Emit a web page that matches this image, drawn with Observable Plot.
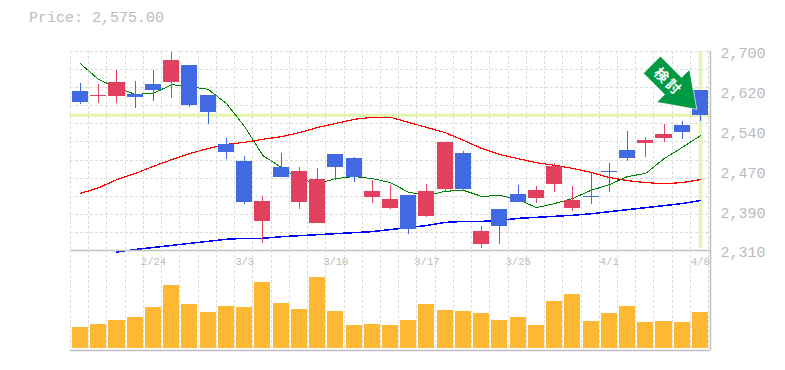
<!DOCTYPE html>
<html>
<head>
<meta charset="utf-8">
<script src="https://cdn.jsdelivr.net/npm/d3@7"></script>
<script src="https://cdn.jsdelivr.net/npm/@observablehq/plot@0.6"></script>
<style>
html,body{margin:0;padding:0;background:#fff;}
#chart{position:relative;width:785px;height:370px;overflow:hidden;}
#chart svg{position:absolute;left:0;}
#title{position:absolute;left:29px;top:10px;font:15px "Liberation Mono",monospace;color:#bbb;}
</style>
</head>
<body>
<div id="chart"><div id="title"></div></div>
<script>
const titleText = "Price: 2,575.00";
const open  = [2622,2612,2612,2616,2635,2639,2673,2614,2518,2484,2367,2473,2404,2363,2498,2490,2414,2392,2418,2377,2430,2500,2322,2390,2420,2412,2439,2392,2416,2465,2506,2520,2529,2555,2624];
const close = [2600,2614,2639,2610,2624,2682,2594,2580,2502,2404,2406,2453,2465,2449,2473,2453,2426,2410,2351,2426,2522,2430,2347,2357,2404,2428,2475,2408,2414,2463,2490,2526,2537,2541,2575];
const high  = [2637,2635,2663,2641,2663,2698,2673,2614,2529,2494,2416,2500,2473,2471,2498,2492,2447,2437,2418,2439,2522,2504,2357,2390,2437,2435,2480,2435,2461,2480,2543,2531,2557,2563,2624];
const low   = [2596,2598,2598,2588,2602,2608,2590,2557,2488,2400,2324,2453,2390,2363,2447,2443,2402,2390,2341,2375,2426,2426,2314,2322,2404,2402,2424,2386,2400,2424,2484,2492,2522,2528,2563];
const volume = [21,24,28,31,41,63,44,36,42,41,66,45,39,71,37,23,24,23,28,44,38,37,35,28,31,23,47,54,27,35,42,26,27,26,36];
const maGreen = [2676,2645,2629,2616,2618,2635,2631,2626,2598,2553,2496,2473,2451,2441,2451,2455,2451,2443,2424,2418,2426,2428,2416,2418,2410,2394,2402,2412,2428,2439,2455,2461,2490,2512,2535];
const maRed = [2422,2433,2449,2461,2475,2488,2500,2510,2518,2522,2528,2533,2541,2551,2559,2567,2571,2571,2561,2551,2541,2526,2510,2498,2490,2482,2477,2471,2463,2453,2447,2443,2441,2443,2449];
const maBlue = [2307,2312,2316,2320,2324,2328,2332,2334,2334,2337,2339,2341,2343,2345,2347,2351,2355,2359,2365,2367,2367,2369,2373,2375,2377,2379,2382,2386,2390,2394,2398,2402,2408];
const maBlueStart = 2;
const priceTicks = [2700,2622,2544,2466,2388,2310];
const priceLabels = ["2,700","2,620","2,540","2,470","2,390","2,310"];
const dateIndex = [4,9,14,19,24,29,34];
const dateLabels = ["2/24","3/3","3/10","3/17","3/25","4/1","4/8"];
const lastPrice = 2575;
const lastIndex = 34;
const arrowGlyphs = ["検","討"];

const idx = d3.range(open.length);
const xDomain = [-0.55, 34.55];
const gridX = d3.range(0, 36).map(k => k - 0.55);
const gridY = d3.range(0, 12).map(k => 2310 + k * 390 / 11);
const FONT = '"Liberation Mono", monospace';
const GRID = {stroke:"#dddddd", strokeDasharray:"3,2", strokeWidth:1, shapeRendering:"crispEdges"};
const AXIS = "#c0c0c0";
const LIME = "#e4f5ae";
const UP = "#e2405f", DOWN = "#4169e1";
const halfBar = 0.439;
const candleColor = i => close[i] >= open[i] ? UP : DOWN;

const arrowShape = {
  draw(c) {
    c.moveTo(0, 0);
    c.lineTo(23, 33);
    c.lineTo(12, 33);
    c.lineTo(12, 63);
    c.lineTo(-12, 63);
    c.lineTo(-12, 33);
    c.lineTo(-23, 33);
    c.closePath();
  }
};
const glyph = (s, dx, dy) => Plot.text([s], {x: () => lastIndex, y: () => lastPrice, dx, dy, rotate: 45, text: d => d, fill: "#fff", fontSize: 14, fontWeight: "bold", fontFamily: '"Noto Sans CJK JP", sans-serif'});

const price = Plot.plot({
  width: 785, height: 270,
  marginTop: 51, marginBottom: 20, marginLeft: 70, marginRight: 75,
  style: {background: "transparent", fontFamily: FONT},
  x: {domain: xDomain, axis: null},
  y: {domain: [2310, 2700], axis: null},
  marks: [
    Plot.ruleX(gridX, GRID),
    Plot.ruleY(gridY.slice(1), GRID),
    Plot.ruleY([lastPrice], {stroke: LIME, strokeWidth: 3}),
    Plot.ruleX([lastIndex], {y1: 2700, y2: 2314, stroke: LIME, strokeWidth: 3.5}),
    Plot.line(maRed, {x: (d, i) => i, y: d => d, stroke: "#f00", strokeWidth: 1.2, shapeRendering: "crispEdges"}),
    Plot.line(maBlue, {x: (d, i) => i + maBlueStart, y: d => d, stroke: "#00f", strokeWidth: 1.5, shapeRendering: "crispEdges"}),
    Plot.line(maGreen, {x: (d, i) => i, y: d => d, stroke: "#008000", strokeWidth: 1, shapeRendering: "crispEdges"}),
    Plot.ruleX(idx, {x: i => i, y1: i => low[i], y2: i => high[i], stroke: candleColor, strokeWidth: 1, shapeRendering: "crispEdges"}),
    Plot.rect(idx, {x1: i => i - halfBar, x2: i => i + halfBar, y1: i => open[i], y2: i => close[i], fill: candleColor, shapeRendering: "crispEdges"}),
    Plot.ruleY([2310], {stroke: AXIS, strokeWidth: 1.5}),
    Plot.ruleX([34.55], {stroke: AXIS, strokeWidth: 1.5}),
    Plot.vector([0], {x: () => lastIndex, y: () => lastPrice, dx: -4, dy: -6, rotate: 135, anchor: "start", length: 63, shape: arrowShape, fill: "#009944", stroke: "#fff", strokeWidth: 0.6, strokeLinejoin: "miter"}),
    glyph(arrowGlyphs[0], -39.3, -39.7),
    glyph(arrowGlyphs[1], -27.7, -28.3),
    Plot.axisY(priceTicks, {anchor: "right", tickSize: 0, tickPadding: 10, dy: 2, fontSize: 15, fontFamily: FONT, fill: "#bbb", tickFormat: d => priceLabels[priceTicks.indexOf(d)], label: null})
  ]
});
price.style.top = "0px";

const vol = Plot.plot({
  width: 785, height: 120,
  marginTop: 0, marginBottom: 20, marginLeft: 70, marginRight: 75,
  style: {background: "transparent", fontFamily: FONT},
  x: {domain: xDomain, axis: null},
  y: {domain: [0, 100], range: [98, -2], axis: null},
  marks: [
    Plot.ruleX(gridX, GRID),
    Plot.rect(idx, {x1: i => i - halfBar, x2: i => i + halfBar, y1: () => 0, y2: i => volume[i], fill: "#ffb833", shapeRendering: "crispEdges"}),
    Plot.text(dateIndex, {x: d => d, text: (d, i) => dateLabels[i], frameAnchor: "top", lineAnchor: "top", dy: 7, fontSize: 10.5, fontFamily: FONT, fill: "#bbb"}),
    Plot.ruleX([34.55], {stroke: AXIS, strokeWidth: 1.5}),
    Plot.ruleY([0], {y: () => -2.04, stroke: AXIS, strokeWidth: 1.5})
  ]
});
vol.style.top = "250px";

const root = document.getElementById("chart");
document.getElementById("title").textContent = titleText;
root.appendChild(price);
root.appendChild(vol);
</script>
</body>
</html>
